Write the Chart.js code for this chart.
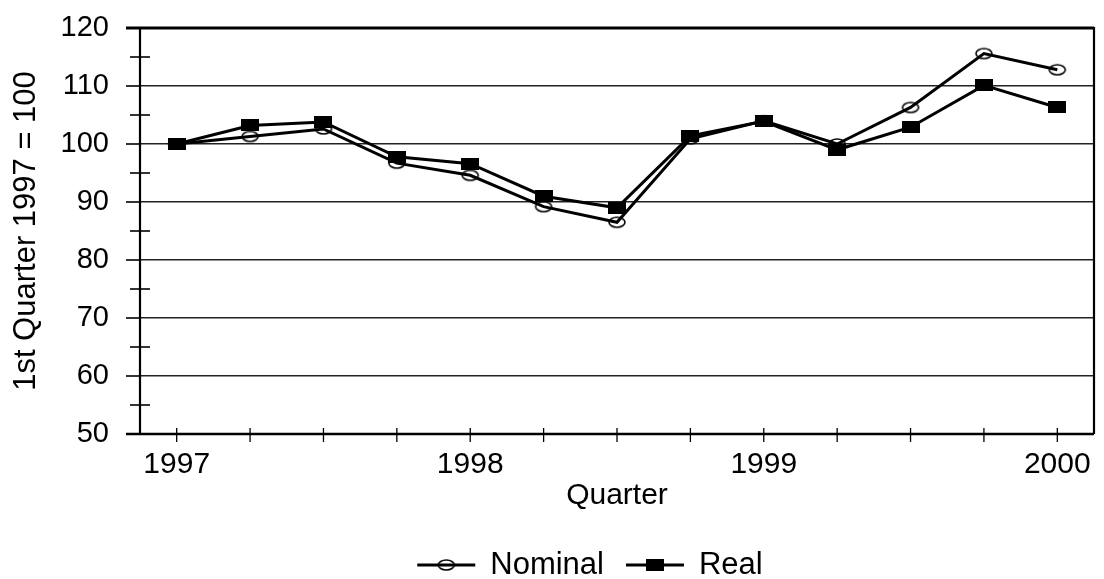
<!DOCTYPE html>
<html>
<head>
<meta charset="utf-8">
<script src="https://cdn.jsdelivr.net/npm/chart.js@4.4.1/dist/chart.umd.min.js"></script>
<style>
  html, body { margin: 0; padding: 0; background: #fff; }
  #wrap { width: 1104px; height: 579px; }
</style>
</head>
<body>
<div id="wrap"><canvas id="lineChart" width="1104" height="579"></canvas></div>
<script>
// quarters, 1st quarter 1997 to 1st quarter 2000
var quarters = ['1997 Q1', '1997 Q2', '1997 Q3', '1997 Q4',
                '1998 Q1', '1998 Q2', '1998 Q3', '1998 Q4',
                '1999 Q1', '1999 Q2', '1999 Q3', '1999 Q4',
                '2000 Q1'];
var nominal = [100, 101.3, 102.6, 96.7, 94.6, 89.2, 86.5, 100.9, 104.0, 100.0, 106.3, 115.6, 112.8];
var real = [100, 103.2, 103.8, 97.8, 96.6, 91.0, 89.0, 101.4, 103.9, 99.0, 102.9, 110.1, 106.3];
var yTicks = [50, 60, 70, 80, 90, 100, 110, 120];
var seriesNames = ['Nominal', 'Real'];

var FONT = "'Liberation Sans', Arial, sans-serif";

// marker images: hollow ellipse and filled rectangle
function makeEllipse() {
    var c = document.createElement('canvas');
    c.width = 20; c.height = 14;
    var g = c.getContext('2d');
    g.strokeStyle = '#000';
    g.lineWidth = 1.6;
    g.beginPath();
    g.ellipse(10, 7, 8, 5, 0, 0, Math.PI * 2);
    g.stroke();
    return c;
}
function makeBlock() {
    var c = document.createElement('canvas');
    c.width = 18; c.height = 12;
    var g = c.getContext('2d');
    g.fillStyle = '#000';
    g.fillRect(0, 0, 18, 12);
    return c;
}
var ellipseImg = makeEllipse();
var blockImg = makeBlock();

// borders and tick marks the way the original draws them
var axisMarks = {
    id: 'axisMarks',
    afterDatasetsDraw: function(chart) {
        var ctx = chart.ctx;
        var a = chart.chartArea;
        var xs = chart.scales.x, ys = chart.scales.y;
        ctx.save();
        ctx.strokeStyle = '#000';

        // y ticks: long ones at every 10, crossing ones at the 5s
        ctx.lineWidth = 1.6;
        for (var v = 50; v <= 120; v += 5) {
            var py = ys.getPixelForValue(v);
            ctx.beginPath();
            if (v % 10 === 0) {
                ctx.moveTo(a.left - 14, py);
                ctx.lineTo(a.left, py);
            } else {
                ctx.moveTo(a.left - 10, py);
                ctx.lineTo(a.left + 10, py);
            }
            ctx.stroke();
        }

        // x ticks crossing the axis at every quarter
        ctx.lineWidth = 1.3;
        for (var i = 0; i < quarters.length; i++) {
            var px = xs.getPixelForValue(i);
            ctx.beginPath();
            ctx.moveTo(px, a.bottom - 6);
            ctx.lineTo(px, a.bottom + 8);
            ctx.stroke();
        }

        // frame
        ctx.lineWidth = 3;
        ctx.beginPath();
        ctx.moveTo(a.left - 14, a.top);
        ctx.lineTo(a.right, a.top);
        ctx.stroke();
        ctx.lineWidth = 2.5;
        ctx.beginPath();
        ctx.moveTo(a.left - 14, a.bottom);
        ctx.lineTo(a.right, a.bottom);
        ctx.stroke();
        ctx.lineWidth = 2.2;
        ctx.beginPath();
        ctx.moveTo(a.left, a.top);
        ctx.lineTo(a.left, a.bottom);
        ctx.moveTo(a.right, a.top - 1);
        ctx.lineTo(a.right, a.bottom);
        ctx.stroke();
        ctx.restore();
    }
};

// legend with line + marker samples
var lineLegend = {
    id: 'lineLegend',
    afterDraw: function(chart) {
        var ctx = chart.ctx;
        var a = chart.chartArea;
        var sets = [chart.data.datasets[0], chart.data.datasets[1]];
        var lineLen = 58, textGap = 15, itemGap = 22;
        ctx.save();
        ctx.font = '31px ' + FONT;
        ctx.textBaseline = 'middle';
        ctx.fillStyle = '#000';
        var total = 0;
        sets.forEach(function(ds, k) {
            total += lineLen + textGap + ctx.measureText(ds.label).width;
            if (k < sets.length - 1) total += itemGap;
        });
        var x = (a.left + a.right) / 2 - 27 - total / 2;
        var y = 565;
        sets.forEach(function(ds) {
            ctx.strokeStyle = '#000';
            ctx.lineWidth = 3;
            ctx.beginPath();
            ctx.moveTo(x, y);
            ctx.lineTo(x + lineLen, y);
            ctx.stroke();
            var img = ds.pointStyle;
            ctx.drawImage(img, x + lineLen / 2 - img.width / 2, y - img.height / 2);
            x += lineLen + textGap;
            ctx.fillText(ds.label, x, y);
            x += ctx.measureText(ds.label).width + itemGap;
        });
        ctx.restore();
    }
};

window.onload = function() {
    var ctx = document.getElementById('lineChart').getContext('2d');
    var lineChart = new Chart(ctx, {
        type: 'line',
        data: {
            labels: quarters,
            datasets: [{
                label: seriesNames[0],
                data: nominal,
                borderColor: '#000',
                borderWidth: 3,
                pointStyle: ellipseImg,
                pointRadius: 7,
                tension: 0,
                order: 1
            }, {
                label: seriesNames[1],
                data: real,
                borderColor: '#000',
                borderWidth: 3,
                pointStyle: blockImg,
                pointRadius: 7,
                tension: 0,
                order: 0
            }]
        },
        options: {
            responsive: false,
            animation: false,
            layout: { padding: { left: 0, right: 3, top: 28, bottom: 0 } },
            plugins: {
                legend: { display: false },
                tooltip: { enabled: false }
            },
            scales: {
                x: {
                    type: 'category',
                    offset: true,
                    grid: { display: false },
                    border: { display: false },
                    ticks: {
                        autoSkip: false,
                        maxRotation: 0,
                        padding: 5,
                        color: '#000',
                        font: { family: FONT, size: 30 },
                        callback: function(value, index) {
                            var q = quarters[index];
                            return q.slice(-2) === 'Q1' ? q.slice(0, 4) : '';
                        }
                    },
                    title: {
                        display: true,
                        text: 'Quarter',
                        color: '#000',
                        font: { family: FONT, size: 30 },
                        padding: { top: 0, bottom: 65 }
                    },
                    afterFit: function(scale) { scale.height = 145; }
                },
                y: {
                    min: 50,
                    max: 120,
                    grid: {
                        drawTicks: true,
                        tickLength: 28,
                        tickColor: 'rgba(0,0,0,0)',
                        lineWidth: 1.5,
                        color: function(c) {
                            return yTicks.indexOf(c.tick.value) >= 0 ? '#222' : 'rgba(0,0,0,0)';
                        }
                    },
                    border: { display: false },
                    ticks: {
                        stepSize: 5,
                        padding: 3,
                        color: '#000',
                        font: { family: FONT, size: 29 },
                        callback: function(value) {
                            return yTicks.indexOf(value) >= 0 ? value : '';
                        }
                    },
                    title: {
                        display: true,
                        text: '1st Quarter 1997 = 100',
                        color: '#000',
                        font: { family: FONT, size: 31 },
                        padding: { top: 8, bottom: 0 }
                    },
                    afterFit: function(scale) { scale.width = 140; }
                }
            }
        },
        plugins: [axisMarks, lineLegend]
    });
};
</script>
</body>
</html>
